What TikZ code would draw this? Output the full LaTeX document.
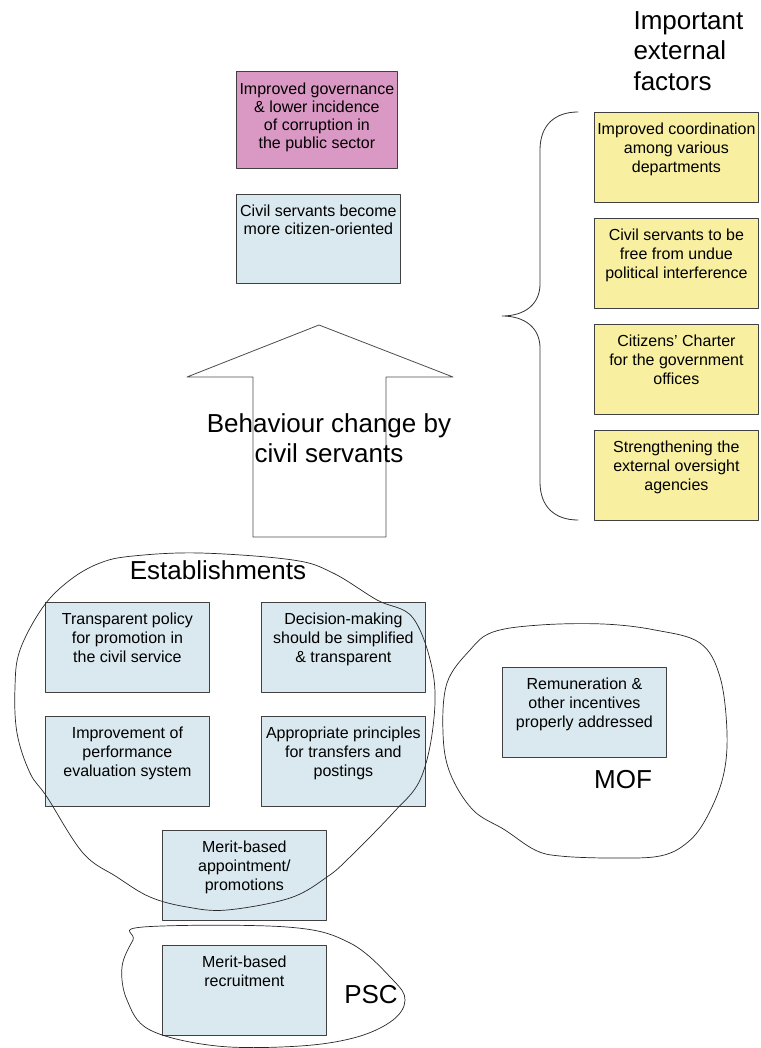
\documentclass[tikz,border=0pt]{standalone}
\usepackage{fontspec}
\setmainfont{Liberation Sans}
\definecolor{pinkbox}{RGB}{218,152,196}
\definecolor{bluebox}{RGB}{218,232,239}
\definecolor{yellowbox}{RGB}{248,240,160}
\begin{document}
\begin{tikzpicture}[x=1pt,y=-1pt,line join=round,line cap=round,
	box/.style={draw=black!75,line width=0.8pt,inner sep=0pt,anchor=north west,minimum width=164pt,minimum height=90pt,font=\fontsize{16}{18.8}\selectfont},
	bluebx/.style={box,fill=bluebox},
	yellowbx/.style={box,fill=yellowbox},
	big/.style={align=center,font=\fontsize{26}{30.5}\selectfont},
	blob/.style={black!85,line width=0.7pt}]
	\useasboundingbox (0,0) rectangle (760,1048);
	\def\txt#1{\parbox[t][88pt][t]{164pt}{\centering\vspace*{8pt}\strut#1}}
	% top of the chain
	\node[box,fill=pinkbox,minimum width=161pt,minimum height=97pt,font=\fontsize{16}{17.8}\selectfont] (gov) at (236,71)
	{\parbox[t][95pt][t]{161pt}{\centering\vspace*{10pt}\strut Improved governance\\\& lower incidence\\of corruption in\\the public sector}};
	\node[bluebx,minimum height=89pt] (citizen) at (236,194) {\txt{Civil servants become\\more citizen-oriented}};
	\draw[black!70,line width=0.8pt] (253,537)--(253,377)--(187,377)--(319,325)--(453,377)--(386,377)--(386,537)--cycle;
	\node[big] (behav) at (329,438) {Behaviour change by\\civil servants};
	% external factors
	\node[big,align=left,anchor=west] (ext) at (630,51) {Important\\external\\factors};
	\node[yellowbx] (coord) at (594,112) {\txt{Improved coordination\\among various\\departments}};
	\node[yellowbx] (free) at (594,218) {\txt{Civil servants to be\\free from undue\\political interference}};
	\node[yellowbx] (charter) at (594,324) {\txt{Citizens' Charter\\for the government\\offices}};
	\node[yellowbx] (oversight) at (594,430) {\txt{Strengthening the\\external oversight\\agencies}};
	\draw[black!80,line width=0.8pt] (578,112) .. controls (555,112) and (540,125) .. (540,150)--(540,284)
		.. controls (540,304) and (525,316) .. (502,316) .. controls (525,316) and (540,328) .. (540,348)
		--(540,482) .. controls (540,507) and (555,520) .. (578,520);
	% establishments
	\node[big] (estab) at (218,570) {Establishments};
	\node[bluebx] (promo) at (45,602) {\txt{Transparent policy\\for promotion in\\the civil service}};
	\node[bluebx] (decision) at (261,602) {\txt{Decision-making\\should be simplified\\\& transparent}};
	\node[bluebx] (perf) at (45,716) {\txt{Improvement of\\performance\\evaluation system}};
	\node[bluebx] (transfer) at (261,716) {\txt{Appropriate principles\\for transfers and\\postings}};
	\node[bluebx] (appoint) at (162,830) {\txt{Merit-based\\appointment/\\promotions}};
	\draw[blob] plot[smooth cycle,tension=0.6] coordinates {(100,563) (133,556) (200,553) (293,560) (333,573) (377,600)
		(413,618) (433,673) (433,727) (420,780) (393,813) (350,857) (327,877) (290,898) (227,910) (187,907)
		(150,897) (117,877) (83,853) (47,797) (30,773) (17,733) (15,687) (20,650) (43,607) (70,580)};
	% MOF
	\node[bluebx] (remun) at (502,667) {\txt{Remuneration \&\\other incentives\\properly addressed}};
	\node[big] (mof) at (623,780) {MOF};
	\draw[blob] plot[smooth cycle,tension=0.6] coordinates {(493,632) (540,625) (603,624) (655,630) (700,643) (720,677)
		(727,733) (723,777) (707,817) (688,842) (660,856) (610,858) (560,856) (535,850) (505,830) (473,810)
		(450,773) (443,733) (447,683) (470,650)};
	% PSC
	\node[bluebx] (recruit) at (162,945) {\txt{Merit-based\\recruitment}};
	\node[big] (psc) at (371,995) {PSC};
	\draw[blob] plot[smooth cycle,tension=0.6] coordinates {(143,927) (287,927) (350,943) (393,980) (405,1000)
		(393,1020) (357,1037) (300,1046) (217,1046) (150,1030) (127,1000) (122,967) (133,940)};
\end{tikzpicture}
\end{document}
